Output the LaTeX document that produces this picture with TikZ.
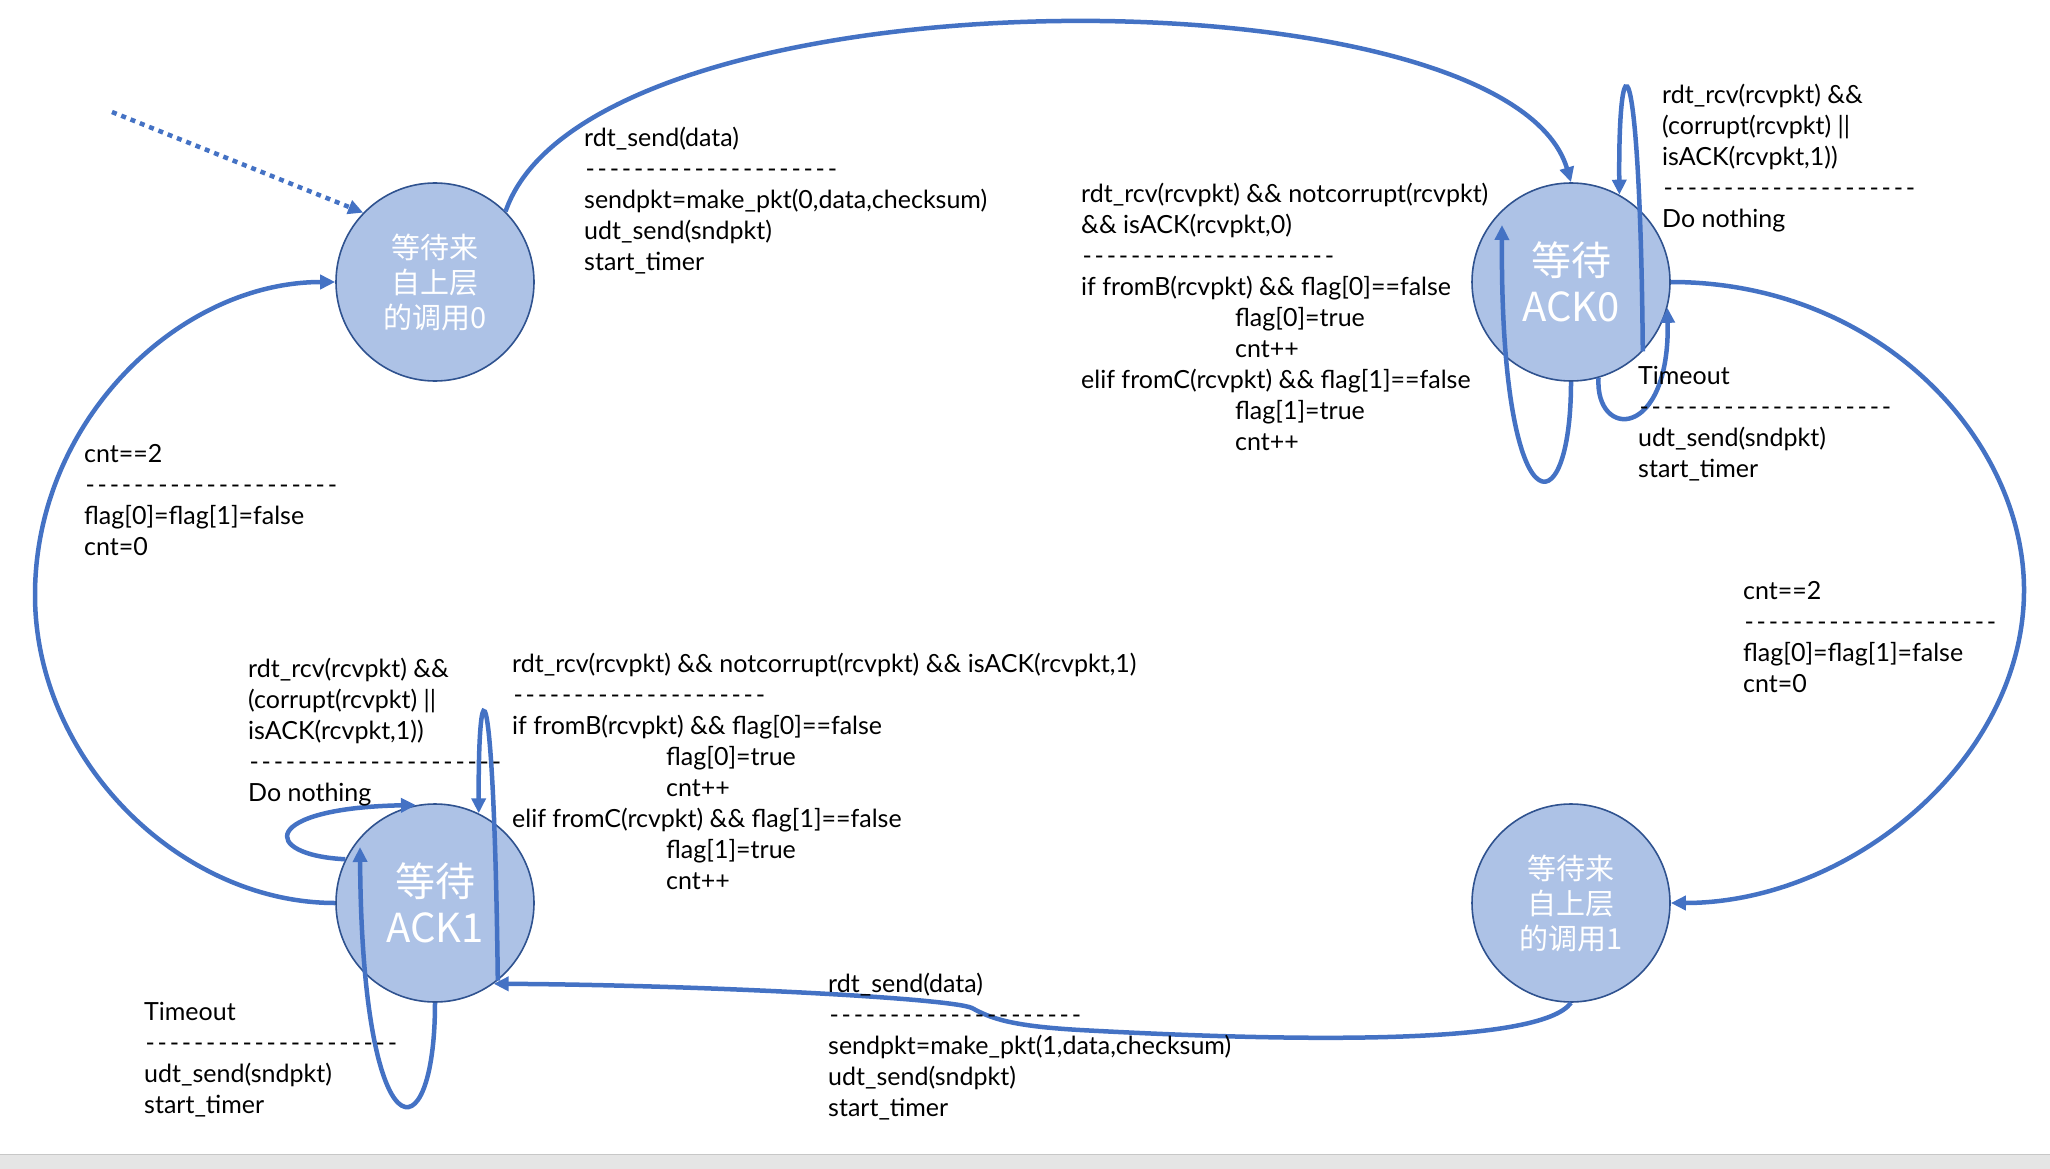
\documentclass[tikz,border=0pt]{standalone}
\usepackage{fontspec}
\setmainfont{Lato}
\newfontfamily\cjkfont{Noto Sans CJK SC}
\definecolor{L}{HTML}{4472C4}
\definecolor{F}{HTML}{ADC2E6}
\definecolor{B}{HTML}{2F528F}
\usetikzlibrary{arrows.meta}
\usetikzlibrary{calc}
\usetikzlibrary{positioning}
\tikzstyle{fsm}=[circle, draw=B, line width=1.6pt, fill=F, minimum size=198pt, inner sep=0pt, align=center, text=white]
\tikzstyle{trans}=[draw=L, line width=4.5pt, -{Triangle[length=15pt,width=14pt]}]
\tikzstyle{cond}=[anchor=north west, inner sep=0pt, align=left, font=\fontsize{25}{31}\selectfont]
\newcommand*{\sepline}{\foreach \d in {1,...,21}{\makebox[12.1pt]{-}}}
\newcommand*{\ind}{\hspace*{154pt}}

\begin{document}
\begin{tikzpicture}[x=1pt, y=-1pt]
    \useasboundingbox (0,0) rectangle (2050,1169);
    \fill [black!10] (0,1154) rectangle (2050,1169);
    \draw [black!22, line width=1pt] (0,1154) -- (2050,1154);

    % states
    \node [fsm, font=\cjkfont\fontsize{29}{35}\selectfont] (s0) at (435,282) {等待来\\自上层\\的调用0};
    \node [fsm, font=\cjkfont\fontsize{40}{46}\selectfont] (ack0) at (1571,282) {等待\\ACK0};
    \node [fsm, font=\cjkfont\fontsize{40}{46}\selectfont] (ack1) at (435,903) {等待\\ACK1};
    \node [fsm, font=\cjkfont\fontsize{29}{35}\selectfont] (s1) at (1571,903) {等待来\\自上层\\的调用1};
    \coordinate (init) at (112,112);

    % transitions
    \draw [trans, dash pattern=on 5pt off 5pt] (init) -- (s0.136);
    \draw [trans] (s0.45) .. controls (590,-35) and (1507,-35) .. (ack0.north);
    \draw [trans] (ack0.-44) .. controls (1640,34) and (1618,34) .. (ack0.61);
    \draw [trans] (ack0.south) .. controls (1571,533) and (1500,533) .. ($(ack0)+(-69,-57)$);
    \draw [trans] (ack0.-74) .. controls (1595,440) and (1670,440) .. (ack0.-15);
    \draw [trans] (ack0.east) .. controls (1880,282) and (2024,440) .. (2024,590)
        .. controls (2024,760) and (1850,903) .. (s1.east);
    \draw [trans] (s1.south) .. controls (1540,1045) and (1300,1042) .. (1080,1030)
        .. controls (1010,1026) and (990,1018) .. (972,1008)
        .. controls (950,998) and (700,985) .. (ack1.-54);
    \draw [trans] (ack1.154) .. controls (260,855) and (260,808) .. (ack1.101);
    \draw [trans] (ack1.-51) .. controls (494,660) and (478,660) .. (ack1.64);
    \draw [trans] (ack1.south) .. controls (435,1160) and (362,1160) .. ($(ack1)+(-75,-56)$);
    \draw [trans] (ack1.west) .. controls (180,903) and (35,760) .. (35,595)
        .. controls (35,420) and (180,282) .. (s0.west);

    % conditions and actions
    \node [cond] (tA) at (584,127) {rdt\_send(data)\\\sepline\\sendpkt=make\_pkt(0,data,checksum)\\udt\_send(sndpkt)\\start\_timer};
    \node [cond] (tB) at (1662,84) {rdt\_rcv(rcvpkt) \&\&\\(corrupt(rcvpkt) ||\\isACK(rcvpkt,1))\\\sepline\\Do nothing};
    \node [cond] (tC) at (1081,183) {rdt\_rcv(rcvpkt) \&\& notcorrupt(rcvpkt)\\\&\& isACK(rcvpkt,0)\\\sepline\\if fromB(rcvpkt) \&\& flag[0]==false\\\ind flag[0]=true\\\ind cnt++\\elif fromC(rcvpkt) \&\& flag[1]==false\\\ind flag[1]=true\\\ind cnt++};
    \node [cond] (tD) at (1638,366) {Timeout\\\sepline\\udt\_send(sndpkt)\\start\_timer};
    \node [cond] (tE) at (84,444) {cnt==2\\\sepline\\flag[0]=flag[1]=false\\cnt=0};
    \node [cond] (tF) at (1743,581) {cnt==2\\\sepline\\flag[0]=flag[1]=false\\cnt=0};
    \node [cond] (tG) at (248,658) {rdt\_rcv(rcvpkt) \&\&\\(corrupt(rcvpkt) ||\\isACK(rcvpkt,1))\\\sepline\\Do nothing};
    \node [cond] (tH) at (512,653) {rdt\_rcv(rcvpkt) \&\& notcorrupt(rcvpkt) \&\& isACK(rcvpkt,1)\\\sepline\\if fromB(rcvpkt) \&\& flag[0]==false\\\ind flag[0]=true\\\ind cnt++\\elif fromC(rcvpkt) \&\& flag[1]==false\\\ind flag[1]=true\\\ind cnt++};
    \node [cond] (tI) at (144,1002) {Timeout\\\sepline\\udt\_send(sndpkt)\\start\_timer};
    \node [cond] (tJ) at (828,973) {rdt\_send(data)\\\sepline\\sendpkt=make\_pkt(1,data,checksum)\\udt\_send(sndpkt)\\start\_timer};
\end{tikzpicture}
\end{document}
